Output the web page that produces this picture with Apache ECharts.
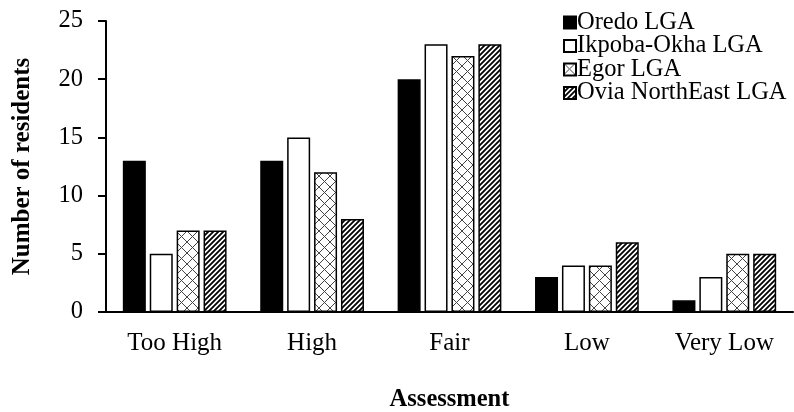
<!DOCTYPE html>
<html>
<head>
<meta charset="utf-8">
<script src="https://cdn.jsdelivr.net/npm/echarts@6/dist/echarts.min.js"></script>
<style>
  html, body { margin: 0; padding: 0; background: #fff; }
  #chart { width: 794px; height: 412px; }
</style>
</head>
<body>
<div id="chart"></div>
<script>
// Resident assessment counts per Local Government Area
const categories = ['Too High', 'High', 'Fair', 'Low', 'Very Low'];
const oredo = [13, 13, 20, 3, 1];
const ikpobaOkha = [5, 15, 23, 4, 3];
const egor = [7, 12, 22, 4, 5];
const oviaNorthEast = [7, 8, 23, 6, 5];
const yTicks = { min: 0, max: 25, interval: 5 };

const FONT = '"Liberation Serif", "Times New Roman", serif';

// Diamond lattice fill
function latticePattern() {
  const s = 11;
  const c = document.createElement('canvas');
  c.width = s; c.height = s;
  const g = c.getContext('2d');
  g.fillStyle = '#fff';
  g.fillRect(0, 0, s, s);
  g.strokeStyle = '#444';
  g.lineWidth = 1;
  g.beginPath();
  g.moveTo(-1, -1); g.lineTo(s + 1, s + 1);
  g.moveTo(s + 1, -1); g.lineTo(-1, s + 1);
  g.stroke();
  return c;
}

// Dense diagonal stripe fill
function stripePattern() {
  const s = 5;
  const c = document.createElement('canvas');
  c.width = s; c.height = s;
  const g = c.getContext('2d');
  g.fillStyle = '#fff';
  g.fillRect(0, 0, s, s);
  g.strokeStyle = '#000';
  g.lineWidth = 1.8;
  g.beginPath();
  for (let k = -1; k <= 1; k++) {
    g.moveTo(k * s - 1, s + 1);
    g.lineTo(k * s + s + 1, -1);
  }
  g.stroke();
  return c;
}

const border = { borderColor: '#000', borderWidth: 1.5 };
const barCommon = { type: 'bar', barWidth: 23, barGap: '17%' };

const chart = echarts.init(document.getElementById('chart'), null, { renderer: 'canvas' });
chart.setOption({
  animation: false,
  backgroundColor: '#fff',
  textStyle: { fontFamily: FONT, color: '#000' },
  grid: { left: 106, right: 1, top: 21, bottom: 100, containLabel: false, outerBoundsMode: 'none' },
  legend: {
    orient: 'vertical',
    left: 558,
    top: 5,
    itemWidth: 12,
    itemHeight: 12,
    itemGap: -1.5,
    icon: 'rect',
    textStyle: { fontFamily: FONT, fontSize: 24.5, lineHeight: 23.5, color: '#000', padding: [0, 0, 0, -4] },
    data: ['Oredo LGA', 'Ikpoba-Okha LGA', 'Egor LGA', 'Ovia NorthEast LGA']
  },
  xAxis: {
    type: 'category',
    data: categories,
    name: 'Assessment',
    nameLocation: 'middle',
    nameGap: 75,
    nameTextStyle: { fontFamily: FONT, fontSize: 24.5, fontWeight: 'bold', color: '#000' },
    axisLine: { lineStyle: { color: '#000', width: 2 } },
    axisTick: { show: false },
    axisLabel: { fontFamily: FONT, fontSize: 25, color: '#000', margin: 19 }
  },
  yAxis: {
    type: 'value',
    min: yTicks.min,
    max: yTicks.max,
    interval: yTicks.interval,
    name: 'Number of residents',
    nameLocation: 'middle',
    nameGap: 71,
    nameTextStyle: { fontFamily: FONT, fontSize: 25, fontWeight: 'bold', color: '#000' },
    axisLine: { show: true, lineStyle: { color: '#000', width: 2 } },
    axisTick: { show: true, length: 8, lineStyle: { color: '#000', width: 2 } },
    splitLine: { show: false },
    axisLabel: { fontFamily: FONT, fontSize: 24.5, color: '#000', margin: 23 }
  },
  series: [
    Object.assign({ name: 'Oredo LGA', data: oredo,
      itemStyle: Object.assign({ color: '#000' }, border) }, barCommon),
    Object.assign({ name: 'Ikpoba-Okha LGA', data: ikpobaOkha,
      itemStyle: Object.assign({ color: '#fff' }, border) }, barCommon),
    Object.assign({ name: 'Egor LGA', data: egor,
      itemStyle: Object.assign({ color: { image: latticePattern(), repeat: 'repeat' } }, border) }, barCommon),
    Object.assign({ name: 'Ovia NorthEast LGA', data: oviaNorthEast,
      itemStyle: Object.assign({ color: { image: stripePattern(), repeat: 'repeat' } }, border) }, barCommon)
  ]
});
</script>
</body>
</html>
